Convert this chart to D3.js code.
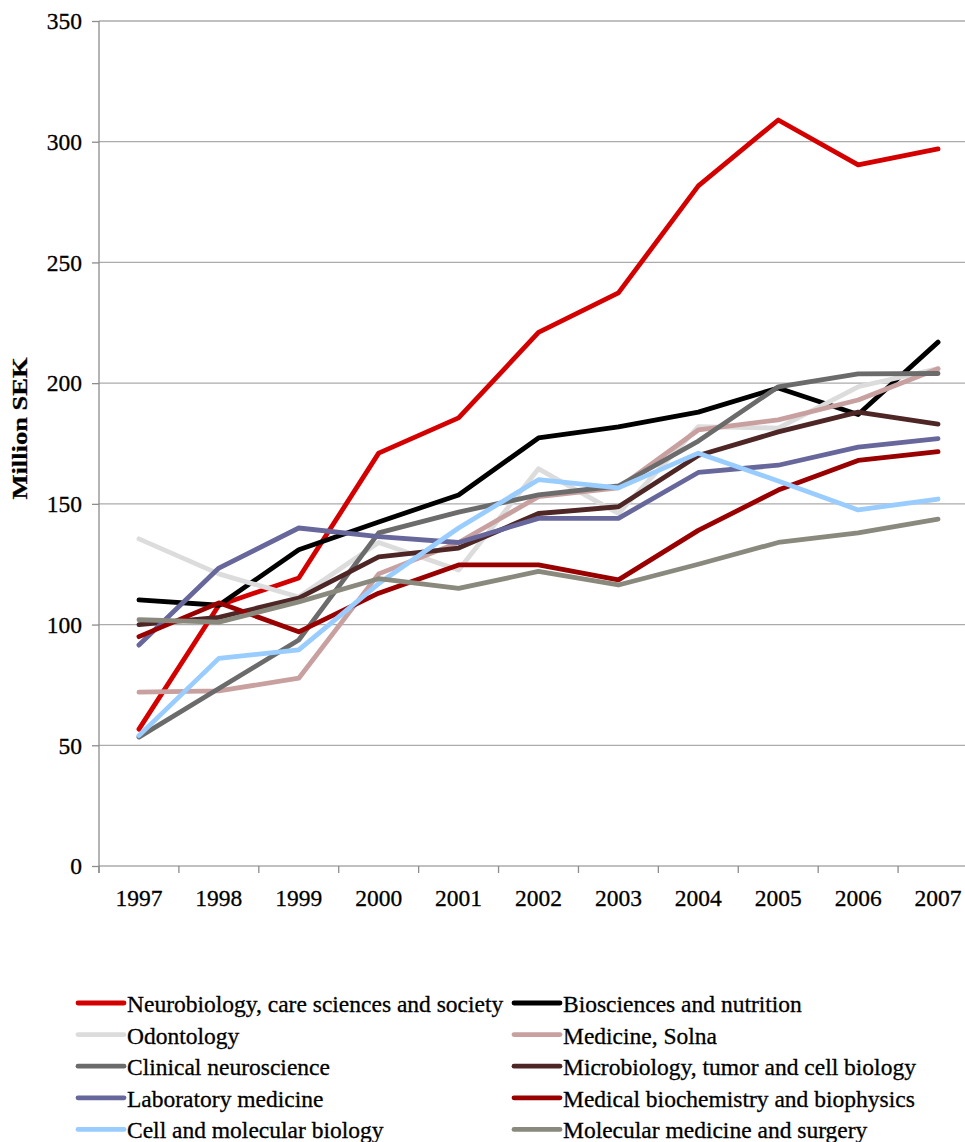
<!DOCTYPE html>
<html>
<head>
<meta charset="utf-8">
<script src="https://cdn.jsdelivr.net/npm/d3@7"></script>
<style>
  html, body { margin: 0; padding: 0; background: #fff; }
  svg { display: block; }
  text { font-family: "Liberation Serif", "Times New Roman", serif; fill: #000; stroke: #000; stroke-width: 0.3px; }
</style>
</head>
<body>
<svg id="chart" width="965" height="1142"></svg>
<script>
const years = ["1997","1998","1999","2000","2001","2002","2003","2004","2005","2006","2007"];
const yTicks = [0, 50, 100, 150, 200, 250, 300, 350];

const seriesNames = [
  "Neurobiology, care sciences and society",
  "Biosciences and nutrition",
  "Odontology",
  "Medicine, Solna",
  "Clinical neuroscience",
  "Microbiology, tumor and cell biology",
  "Laboratory medicine",
  "Medical biochemistry and biophysics",
  "Cell and molecular biology",
  "Molecular medicine and surgery"
];
const seriesColors = ["#d40000","#000000","#dcdcdc","#c9a0a0","#6b6b6b","#4e2626","#67679c","#990000","#99ccff","#8a897d"];

const neurobiology   = [56.7, 108, 119.3, 171, 185.6, 221, 237.4, 281.7, 309, 290.4, 297];
const biosciences    = [110.2, 108, 131, 142.5, 153.7, 177.3, 181.9, 188, 198, 187, 217];
const odontology     = [135.5, 121, 111.4, 134, 122.6, 164.5, 146, 182, 181.4, 198.5, 206];
const medicineSolna  = [72, 72.5, 77.8, 121, 134, 153, 156.6, 180.6, 184.8, 193, 206];
const clinicalNeuro  = [53.4, 73.5, 93.6, 138, 146.6, 153.7, 157.4, 176, 198.5, 203.8, 204];
const microbiology   = [100, 103, 111, 128, 131.7, 146, 148.8, 170, 179.8, 188, 183];
const labMedicine    = [91.5, 123.4, 140, 136.4, 134, 144, 144, 163, 166, 173.5, 177];
const medBiochem     = [95, 109, 97, 113, 124.7, 124.7, 118.5, 139, 155.7, 168, 171.6];
const cellMolecular  = [54, 86, 89.5, 117, 140, 160, 156.6, 171, 159.5, 147.5, 152];
const molMedSurgery  = [102, 101, 109.4, 119, 115, 122, 116.4, 125, 134, 138, 143.7];

const seriesValues = [neurobiology, biosciences, odontology, medicineSolna, clinicalNeuro,
                      microbiology, labMedicine, medBiochem, cellMolecular, molMedSurgery];

const svg = d3.select("#chart");
const plotLeft = 99, plotRight = 978, plotTop = 21, plotBottom = 866;

const x = d3.scaleBand().domain(years).range([plotLeft, plotRight]);
const y = d3.scaleLinear().domain([0, 350]).range([plotBottom, plotTop]);

// gridlines
svg.append("g").selectAll("line").data(yTicks).join("line")
  .attr("x1", plotLeft).attr("x2", plotRight)
  .attr("y1", d => y(d)).attr("y2", d => y(d))
  .attr("stroke", "#ababab").attr("stroke-width", 1.3);

// y axis
const yAxis = svg.append("g").attr("transform", `translate(${plotLeft},0)`)
  .call(d3.axisLeft(y).tickValues(yTicks).tickSize(7).tickPadding(10).tickFormat(d3.format("d")));
yAxis.select(".domain").attr("stroke", "#8c8c8c").attr("stroke-width", 1.3)
  .attr("d", `M0,${plotTop}V${plotBottom + 7}`);
yAxis.selectAll(".tick line").attr("stroke", "#8c8c8c").attr("stroke-width", 1.3);
yAxis.selectAll(".tick text").style("font-size", "23.5px").attr("fill", "#000")
  .style("font-family", "'Liberation Serif', serif").attr("dy", "0.33em");

// x axis ticks at band edges
const xAxisG = svg.append("g").attr("transform", `translate(0,${plotBottom})`);
const edges = years.map(d => x(d)).concat([x(years[years.length - 1]) + x.bandwidth()]);
xAxisG.selectAll("line.tk").data(edges).join("line").attr("class", "tk")
  .attr("x1", d => d).attr("x2", d => d).attr("y1", 0).attr("y2", 7)
  .attr("stroke", "#8c8c8c").attr("stroke-width", 1.3);
xAxisG.selectAll("text").data(years).join("text")
  .attr("x", d => x(d) + x.bandwidth() / 2).attr("y", 40)
  .attr("text-anchor", "middle").style("font-size", "23.5px").text(d => d);

// y label
svg.append("text")
  .attr("transform", `translate(27,${(357 + 500) / 2}) rotate(-90)`)
  .attr("text-anchor", "middle")
  .style("font-size", "21px").style("font-weight", "bold")
  .attr("textLength", 142).attr("lengthAdjust", "spacingAndGlyphs")
  .text("Million SEK");

// lines
const line = d3.line().x((d, i) => x(years[i]) + x.bandwidth() / 2).y(d => y(d));
svg.append("g").selectAll("path").data(seriesValues).join("path")
  .attr("d", d => line(d))
  .attr("fill", "none")
  .attr("stroke", (d, i) => seriesColors[i])
  .attr("stroke-width", 4.8)
  .attr("stroke-linejoin", "round")
  .attr("stroke-linecap", "round");

// legend
const legend = svg.append("g");
const colX = [78, 514];
const rowY0 = 1003, rowStep = 31.6;
seriesNames.forEach((name, i) => {
  const cx = colX[i % 2];
  const cy = rowY0 + Math.floor(i / 2) * rowStep;
  legend.append("line").attr("x1", cx).attr("x2", cx + 46).attr("y1", cy).attr("y2", cy)
    .attr("stroke", seriesColors[i]).attr("stroke-width", 4.8).attr("stroke-linecap", "round");
  legend.append("text").attr("x", cx + 49).attr("y", cy + 9)
    .style("font-size", "23.5px").text(name);
});
</script>
</body>
</html>
